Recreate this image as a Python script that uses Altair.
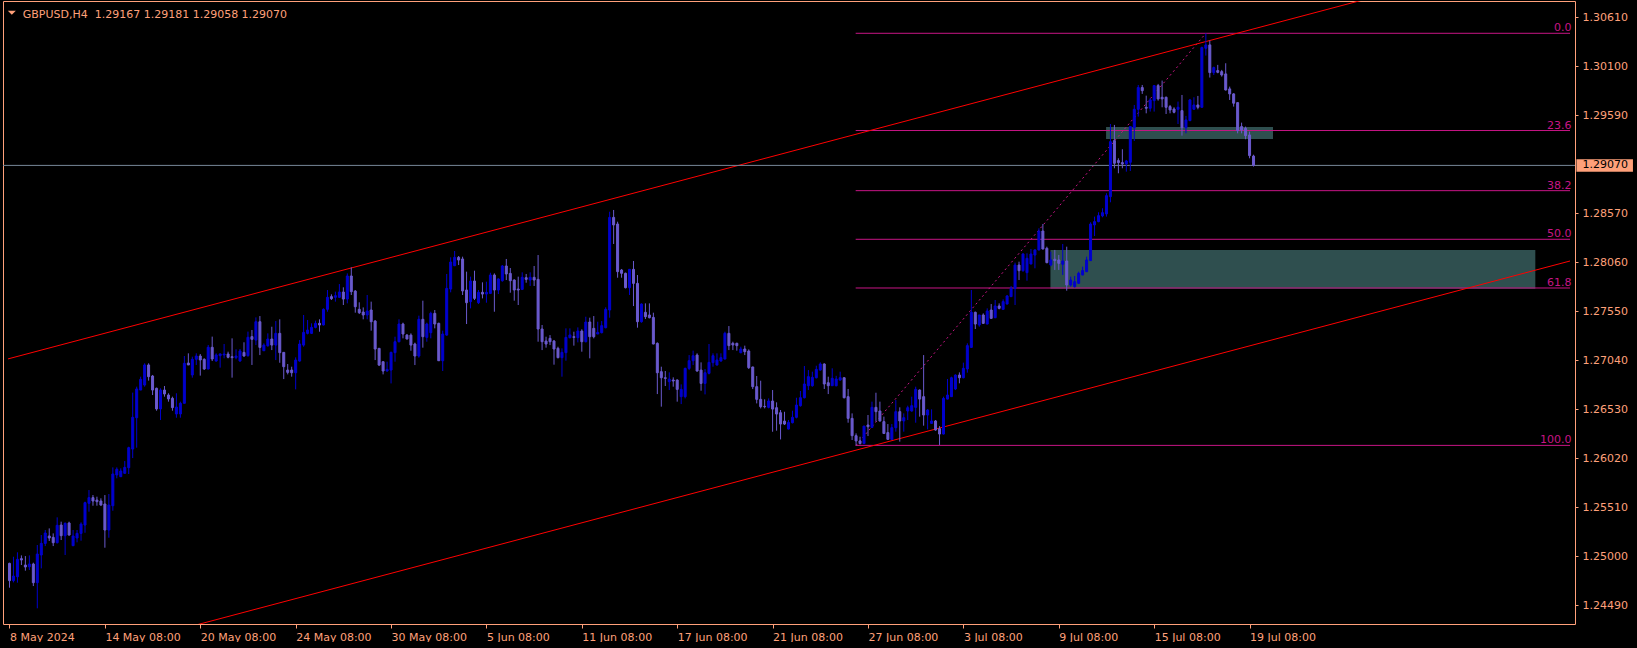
import altair as alt
import pandas as pd

# ---------------- data (GBPUSD H4, 8 May - 19 Jul 2024) ----------------
opens = [
    1.24928, 1.24748, 1.24789, 1.24977, 1.24911, 1.24893, 1.24921, 1.24727, 1.25015, 1.25136,
    1.25213, 1.25199, 1.25143, 1.25327, 1.25216, 1.25348, 1.25112, 1.25192, 1.25240, 1.25327,
    1.25553, 1.25612, 1.25587, 1.25577, 1.25546, 1.25275, 1.25528, 1.25848, 1.25830, 1.25865,
    1.25924, 1.26118, 1.26444, 1.26732, 1.26784, 1.26993, 1.26878, 1.26750, 1.26535, 1.26732,
    1.26680, 1.26646, 1.26483, 1.26483, 1.26594, 1.27013, 1.26889, 1.27052, 1.27086, 1.27052,
    1.26951, 1.27177, 1.27034, 1.27090, 1.27097, 1.27107, 1.27079, 1.27069, 1.27034, 1.27124,
    1.27090, 1.27288, 1.27252, 1.27443, 1.27141, 1.27193, 1.27263, 1.27200, 1.27322, 1.27124,
    1.26940, 1.26940, 1.26912, 1.27034, 1.27200, 1.27322, 1.27322, 1.27384, 1.27426, 1.27409,
    1.27572, 1.27704, 1.27697, 1.27697, 1.27752, 1.27679, 1.27919, 1.27762, 1.27572, 1.27544,
    1.27513, 1.27565, 1.27450, 1.27166, 1.27027, 1.26930, 1.26940, 1.27121, 1.27235, 1.27419,
    1.27304, 1.27304, 1.27211, 1.27086, 1.27468, 1.27280, 1.27329, 1.27530, 1.27426, 1.27037,
    1.27304, 1.27783, 1.28026, 1.28113, 1.28096, 1.27773, 1.27652, 1.27867, 1.27641, 1.27749,
    1.27731, 1.27738, 1.27929, 1.27773, 1.27870, 1.28023, 1.27946, 1.27877, 1.27783, 1.27780,
    1.27901, 1.27877, 1.27905, 1.27884, 1.27367, 1.27242, 1.27270, 1.27242, 1.27166, 1.27069,
    1.27121, 1.27277, 1.27287, 1.27277, 1.27346, 1.27235, 1.27440, 1.27374, 1.27315, 1.27329,
    1.27381, 1.27565, 1.28529, 1.28460, 1.27981, 1.27947, 1.27797, 1.27988, 1.27842, 1.27443,
    1.27541, 1.27513, 1.27488, 1.27218, 1.26923, 1.26860, 1.26819, 1.26836, 1.26836, 1.26663,
    1.26663, 1.26957, 1.27037, 1.27096, 1.26940, 1.26801, 1.26906, 1.27017, 1.26992, 1.27034,
    1.27055, 1.27322, 1.27218, 1.27218, 1.27121, 1.27159, 1.27138, 1.26972, 1.26767, 1.26635,
    1.26562, 1.26552, 1.26618, 1.26548, 1.26496, 1.26409, 1.26326, 1.26392, 1.26448, 1.26569,
    1.26652, 1.26777, 1.26777, 1.26860, 1.26940, 1.27003, 1.26808, 1.26777, 1.26777, 1.26836,
    1.26860, 1.26663, 1.26437, 1.26257, 1.26202, 1.26175, 1.26368, 1.26343, 1.26552, 1.26514,
    1.26403, 1.26289, 1.26219, 1.26340, 1.26507, 1.26410, 1.26514, 1.26514, 1.26552, 1.26732,
    1.26663, 1.26472, 1.26385, 1.26410, 1.26330, 1.26274, 1.26638, 1.26663, 1.26743, 1.26888,
    1.26860, 1.26951, 1.27176, 1.27541, 1.27409, 1.27513, 1.27419, 1.27565, 1.27485, 1.27607,
    1.27572, 1.27627, 1.27704, 1.27790, 1.28033, 1.27974, 1.27954, 1.28044, 1.28137, 1.28190,
    1.28387, 1.28207, 1.28034, 1.28093, 1.28086, 1.28041, 1.28075, 1.27825, 1.27808, 1.27843,
    1.27930, 1.27964, 1.28079, 1.28450, 1.28485, 1.28544, 1.28565, 1.28745, 1.29328, 1.29120,
    1.29099, 1.29085, 1.29102, 1.29463, 1.29654, 1.29880, 1.29675, 1.29665, 1.29744, 1.29900,
    1.29779, 1.29779, 1.29682, 1.29657, 1.29654, 1.29640, 1.29463, 1.29536, 1.29654, 1.29699,
    1.29675, 1.30289, 1.30324, 1.30036, 1.30057, 1.30046, 1.30022, 1.29866, 1.29814, 1.29723,
    1.29474, 1.29456, 1.29387, 1.29167,
]
highs = [
    1.24935, 1.24997, 1.25043, 1.25011, 1.25004, 1.25011, 1.24935, 1.25119, 1.25223, 1.25275,
    1.25292, 1.25240, 1.25407, 1.25362, 1.25355, 1.25362, 1.25275, 1.25275, 1.25355, 1.25570,
    1.25691, 1.25639, 1.25622, 1.25605, 1.25639, 1.25650, 1.25927, 1.25927, 1.25917, 1.25993,
    1.26142, 1.26705, 1.26767, 1.26871, 1.27010, 1.27010, 1.26889, 1.26757, 1.26750, 1.26774,
    1.26698, 1.26663, 1.26698, 1.26611, 1.27086, 1.27114, 1.27079, 1.27114, 1.27107, 1.27062,
    1.27201, 1.27288, 1.27114, 1.27114, 1.27211, 1.27131, 1.27270, 1.27156, 1.27159, 1.27229,
    1.27340, 1.27357, 1.27488, 1.27502, 1.27218, 1.27322, 1.27391, 1.27450, 1.27468, 1.27124,
    1.27003, 1.26975, 1.27072, 1.27252, 1.27513, 1.27461, 1.27426, 1.27454, 1.27468, 1.27582,
    1.27773, 1.27728, 1.27756, 1.27835, 1.27801, 1.27946, 1.28009, 1.27773, 1.27645, 1.27592,
    1.27721, 1.27652, 1.27461, 1.27166, 1.27027, 1.27027, 1.27131, 1.27287, 1.27468, 1.27433,
    1.27315, 1.27322, 1.27225, 1.27506, 1.27662, 1.27433, 1.27547, 1.27565, 1.27433, 1.27350,
    1.27940, 1.28113, 1.28179, 1.28127, 1.28120, 1.27964, 1.27912, 1.27974, 1.27773, 1.27853,
    1.27860, 1.27953, 1.27946, 1.27894, 1.28033, 1.28096, 1.28002, 1.27884, 1.27912, 1.27957,
    1.27940, 1.27957, 1.28023, 1.28137, 1.27409, 1.27287, 1.27304, 1.27253, 1.27183, 1.27166,
    1.27374, 1.27374, 1.27339, 1.27384, 1.27364, 1.27495, 1.27485, 1.27502, 1.27443, 1.27450,
    1.27593, 1.28588, 1.28606, 1.28484, 1.27992, 1.27954, 1.27992, 1.28075, 1.27929, 1.27634,
    1.27634, 1.27634, 1.27537, 1.27228, 1.26975, 1.26930, 1.26916, 1.26864, 1.26843, 1.26791,
    1.26965, 1.27096, 1.27142, 1.27114, 1.27020, 1.26951, 1.27211, 1.27114, 1.27114, 1.27114,
    1.27339, 1.27398, 1.27235, 1.27225, 1.27183, 1.27194, 1.27155, 1.26975, 1.26878, 1.26829,
    1.26635, 1.26645, 1.26732, 1.26604, 1.26524, 1.26506, 1.26420, 1.26517, 1.26652, 1.26722,
    1.26982, 1.26940, 1.26923, 1.26985, 1.27020, 1.27010, 1.26871, 1.26958, 1.26880, 1.26923,
    1.26865, 1.26743, 1.26489, 1.26281, 1.26246, 1.26357, 1.26472, 1.26611, 1.26704, 1.26611,
    1.26455, 1.26378, 1.26378, 1.26628, 1.26552, 1.26489, 1.26569, 1.26663, 1.26767, 1.26739,
    1.27096, 1.26534, 1.26531, 1.26420, 1.26357, 1.26663, 1.26847, 1.26871, 1.26895, 1.26916,
    1.27017, 1.27218, 1.27773, 1.27548, 1.27513, 1.27530, 1.27582, 1.27627, 1.27669, 1.27634,
    1.27676, 1.27721, 1.27815, 1.28058, 1.28068, 1.28155, 1.28155, 1.28200, 1.28196, 1.28415,
    1.28460, 1.28224, 1.28172, 1.28190, 1.28138, 1.28252, 1.28224, 1.27912, 1.27919, 1.27964,
    1.28016, 1.28120, 1.28478, 1.28537, 1.28582, 1.28624, 1.28780, 1.29501, 1.29491, 1.29144,
    1.29238, 1.29127, 1.29474, 1.29699, 1.29907, 1.29907, 1.29796, 1.29769, 1.29907, 1.29918,
    1.29953, 1.29786, 1.29699, 1.29675, 1.29734, 1.29803, 1.29585, 1.29762, 1.29779, 1.29793,
    1.30306, 1.30445, 1.30369, 1.30098, 1.30116, 1.30064, 1.30133, 1.29890, 1.29821, 1.29728,
    1.29515, 1.29474, 1.29422, 1.29181,
]
lows = [
    1.24675, 1.24730, 1.24727, 1.24911, 1.24852, 1.24859, 1.24692, 1.24460, 1.24876, 1.25108,
    1.25161, 1.25108, 1.25136, 1.25171, 1.25015, 1.25216, 1.25108, 1.25147, 1.25164, 1.25247,
    1.25466, 1.25528, 1.25528, 1.25528, 1.25091, 1.25195, 1.25476, 1.25813, 1.25827, 1.25865,
    1.25858, 1.26024, 1.26132, 1.26732, 1.26767, 1.26830, 1.26680, 1.26517, 1.26420, 1.26663,
    1.26611, 1.26517, 1.26444, 1.26444, 1.26594, 1.26993, 1.26861, 1.26993, 1.26882, 1.26941,
    1.26948, 1.27034, 1.27027, 1.26965, 1.27062, 1.27062, 1.26861, 1.27052, 1.27027, 1.27079,
    1.27079, 1.26993, 1.27200, 1.27096, 1.27138, 1.27183, 1.27148, 1.27044, 1.27016, 1.26846,
    1.26895, 1.26871, 1.26739, 1.27027, 1.27183, 1.27311, 1.27315, 1.27374, 1.27339, 1.27405,
    1.27547, 1.27669, 1.27652, 1.27690, 1.27617, 1.27634, 1.27721, 1.27537, 1.27523, 1.27468,
    1.27468, 1.27350, 1.27044, 1.26982, 1.26895, 1.26923, 1.26801, 1.27027, 1.27228, 1.27270,
    1.27259, 1.27141, 1.26992, 1.27069, 1.27173, 1.27235, 1.27270, 1.27374, 1.27034, 1.26930,
    1.27298, 1.27749, 1.28022, 1.28033, 1.27721, 1.27419, 1.27582, 1.27669, 1.27627, 1.27686,
    1.27641, 1.27731, 1.27547, 1.27731, 1.27860, 1.27877, 1.27745, 1.27662, 1.27617, 1.27773,
    1.27849, 1.27815, 1.27815, 1.27235, 1.27148, 1.27173, 1.27200, 1.26996, 1.27062, 1.26871,
    1.27037, 1.27270, 1.27194, 1.27228, 1.27131, 1.27228, 1.27062, 1.27270, 1.27315, 1.27322,
    1.27374, 1.27485, 1.28252, 1.27901, 1.27901, 1.27790, 1.27721, 1.27606, 1.27381, 1.27433,
    1.27471, 1.27478, 1.27208, 1.26690, 1.26559, 1.26774, 1.26732, 1.26767, 1.26611, 1.26586,
    1.26645, 1.26940, 1.26992, 1.26923, 1.26725, 1.26687, 1.26895, 1.26975, 1.26990, 1.27027,
    1.27050, 1.27148, 1.27148, 1.27142, 1.27114, 1.27096, 1.26951, 1.26742, 1.26593, 1.26541,
    1.26541, 1.26541, 1.26298, 1.26309, 1.26218, 1.26368, 1.26322, 1.26385, 1.26437, 1.26559,
    1.26645, 1.26732, 1.26767, 1.26853, 1.26935, 1.26743, 1.26690, 1.26774, 1.26770, 1.26830,
    1.26645, 1.26392, 1.26212, 1.26156, 1.26165, 1.26168, 1.26253, 1.26340, 1.26403, 1.26403,
    1.26274, 1.26212, 1.26212, 1.26299, 1.26195, 1.26299, 1.26420, 1.26507, 1.26392, 1.26455,
    1.26361, 1.26323, 1.26380, 1.26309, 1.26160, 1.26270, 1.26635, 1.26660, 1.26732, 1.26802,
    1.26854, 1.26913, 1.27170, 1.27367, 1.27391, 1.27420, 1.27416, 1.27475, 1.27480, 1.27572,
    1.27565, 1.27624, 1.27700, 1.27617, 1.27877, 1.27964, 1.27870, 1.28040, 1.27999, 1.28185,
    1.28195, 1.28051, 1.28020, 1.27982, 1.27982, 1.27930, 1.27766, 1.27808, 1.27800, 1.27836,
    1.27925, 1.27960, 1.28075, 1.28335, 1.28478, 1.28530, 1.28537, 1.28686, 1.29040, 1.28988,
    1.29040, 1.29005, 1.29012, 1.29324, 1.29578, 1.29814, 1.29612, 1.29630, 1.29630, 1.29744,
    1.29675, 1.29605, 1.29612, 1.29612, 1.29501, 1.29380, 1.29404, 1.29530, 1.29647, 1.29654,
    1.29670, 1.30213, 1.29984, 1.30011, 1.30029, 1.29994, 1.29850, 1.29751, 1.29682, 1.29404,
    1.29404, 1.29342, 1.29144, 1.29058,
]
closes = [
    1.24748, 1.24796, 1.24970, 1.24963, 1.24890, 1.24921, 1.24727, 1.25025, 1.25136, 1.25244,
    1.25192, 1.25143, 1.25324, 1.25216, 1.25344, 1.25223, 1.25213, 1.25240, 1.25337, 1.25560,
    1.25612, 1.25577, 1.25570, 1.25535, 1.25275, 1.25535, 1.25858, 1.25907, 1.25889, 1.25927,
    1.26132, 1.26448, 1.26743, 1.26843, 1.26993, 1.26871, 1.26732, 1.26535, 1.26732, 1.26691,
    1.26639, 1.26549, 1.26555, 1.26594, 1.27010, 1.26993, 1.27052, 1.27086, 1.27045, 1.26951,
    1.27177, 1.27055, 1.27097, 1.27107, 1.27107, 1.27073, 1.27069, 1.27086, 1.27138, 1.27086,
    1.27281, 1.27260, 1.27443, 1.27176, 1.27200, 1.27263, 1.27200, 1.27322, 1.27121, 1.26975,
    1.26916, 1.26912, 1.27044, 1.27211, 1.27332, 1.27356, 1.27384, 1.27426, 1.27409, 1.27572,
    1.27697, 1.27683, 1.27714, 1.27752, 1.27679, 1.27919, 1.27756, 1.27599, 1.27537, 1.27513,
    1.27554, 1.27443, 1.27159, 1.26992, 1.26930, 1.26947, 1.27124, 1.27235, 1.27419, 1.27315,
    1.27263, 1.27200, 1.27086, 1.27468, 1.27287, 1.27419, 1.27530, 1.27419, 1.27037, 1.27315,
    1.27790, 1.28064, 1.28113, 1.28085, 1.27763, 1.27641, 1.27867, 1.27686, 1.27749, 1.27731,
    1.27749, 1.27929, 1.27773, 1.27888, 1.28023, 1.27940, 1.27870, 1.27773, 1.27773, 1.27905,
    1.27884, 1.27905, 1.27877, 1.27367, 1.27235, 1.27211, 1.27235, 1.27159, 1.27069, 1.27124,
    1.27280, 1.27305, 1.27280, 1.27346, 1.27235, 1.27440, 1.27287, 1.27287, 1.27332, 1.27402,
    1.27572, 1.28529, 1.28450, 1.27964, 1.27947, 1.27797, 1.27988, 1.27842, 1.27443, 1.27627,
    1.27495, 1.27485, 1.27211, 1.26912, 1.26860, 1.26853, 1.26846, 1.26826, 1.26739, 1.26739,
    1.26957, 1.27037, 1.27089, 1.26930, 1.26801, 1.26912, 1.27020, 1.27089, 1.27044, 1.27069,
    1.27322, 1.27194, 1.27201, 1.27194, 1.27159, 1.27131, 1.26965, 1.26767, 1.26635, 1.26559,
    1.26559, 1.26618, 1.26534, 1.26482, 1.26378, 1.26378, 1.26395, 1.26448, 1.26576, 1.26652,
    1.26795, 1.26871, 1.26864, 1.26947, 1.27003, 1.26795, 1.26777, 1.26854, 1.26847, 1.26860,
    1.26652, 1.26437, 1.26257, 1.26202, 1.26175, 1.26357, 1.26350, 1.26552, 1.26507, 1.26410,
    1.26280, 1.26219, 1.26340, 1.26507, 1.26410, 1.26444, 1.26548, 1.26569, 1.26739, 1.26638,
    1.26472, 1.26524, 1.26410, 1.26316, 1.26274, 1.26645, 1.26680, 1.26860, 1.26888, 1.26860,
    1.26958, 1.27194, 1.27541, 1.27419, 1.27513, 1.27426, 1.27555, 1.27478, 1.27607, 1.27582,
    1.27652, 1.27711, 1.27790, 1.28033, 1.27974, 1.28148, 1.28103, 1.28148, 1.28190, 1.28387,
    1.28200, 1.28058, 1.28086, 1.28079, 1.28051, 1.28075, 1.27825, 1.27877, 1.27860, 1.27947,
    1.27975, 1.28086, 1.28460, 1.28485, 1.28547, 1.28578, 1.28755, 1.29317, 1.29092, 1.29099,
    1.29085, 1.29116, 1.29474, 1.29654, 1.29880, 1.29848, 1.29665, 1.29751, 1.29900, 1.29762,
    1.29762, 1.29675, 1.29647, 1.29623, 1.29675, 1.29463, 1.29543, 1.29751, 1.29699, 1.29675,
    1.30296, 1.30324, 1.30036, 1.30088, 1.30039, 1.30011, 1.29855, 1.29814, 1.29717, 1.29432,
    1.29439, 1.29380, 1.29172, 1.29070,
]

x_tick_bars = [0, 24, 48, 72, 96, 120, 144, 168, 192, 216, 240, 264, 288, 312]
x_tick_labels = ["8 May 2024", "14 May 08:00", "20 May 08:00", "24 May 08:00", "30 May 08:00",
                 "5 Jun 08:00", "11 Jun 08:00", "17 Jun 08:00", "21 Jun 08:00", "27 Jun 08:00",
                 "3 Jul 08:00", "9 Jul 08:00", "15 Jul 08:00", "19 Jul 08:00"]
price_ticks = [1.24490, 1.25000, 1.25510, 1.26020, 1.26530, 1.27040, 1.27550, 1.28060,
               1.28570, 1.29590, 1.30100, 1.30610]

fib_labels = ["0.0", "23.6", "38.2", "50.0", "61.8", "100.0"]
fib_prices = [1.30445, 1.29433, 1.28807, 1.28301, 1.27794, 1.26156]
fib_start_bar = 212.9
fib_diag_bars = [213, 301]
fib_diag_prices = [1.26156, 1.30445]

channel_bars = [-0.375, 392.625]
channel_upper = [1.27056, 1.31363]
channel_lower = [1.23768, 1.28075]

zone_start = [275.9, 261.9]
zone_end = [317.9, 383.9]
zone_low = [1.29344, 1.27785]
zone_high = [1.29469, 1.28189]

current_price = 1.29070
header_text = "GBPUSD,H4\u00a0\u00a01.29167 1.29181 1.29058 1.29070"

# ---------------- styling ----------------
ORANGE = "#FFA07A"
BULL = "#0000CD"
BEAR = "#6A5ACD"
FIB = "#C71585"
ZONE = "#2F4F4F"
FONT = "DejaVu Sans"
W, H = 1572, 623
XDOM = [-0.375, 392.625]
YDOM = [1.24297, 1.30781]

xs = alt.Scale(domain=XDOM, nice=False, zero=False)
ys = alt.Scale(domain=YDOM, nice=False, zero=False)

labels_js = "[" + ",".join("'" + s + "'" for s in x_tick_labels) + "]"
bars_js = "[" + ",".join(str(b) for b in x_tick_bars) + "]"

x_axis = alt.Axis(values=x_tick_bars, labelExpr=f"{labels_js}[indexof({bars_js}, datum.value)]",
                  labelAlign="left", labelBaseline="top", labelPadding=3, tickSize=4,
                  tickColor=ORANGE, labelColor=ORANGE, labelFont=FONT, labelFontSize=11,
                  domain=False, grid=False, title=None, labelFlush=False, labelOverlap=False,
                  labelBound=False)
y_axis = alt.Axis(orient="right", values=price_ticks, format=".5f", tickSize=3, labelPadding=4,
                  tickColor=ORANGE, labelColor=ORANGE, labelFont=FONT, labelFontSize=11,
                  domain=False, grid=False, title=None, labelOverlap=False, labelFlush=False)


def X(field):
    return alt.X(field, scale=xs, axis=x_axis, title=None)


def Y(field):
    return alt.Y(field, scale=ys, axis=y_axis, title=None)


bars = pd.DataFrame({"i": list(range(len(closes))), "o": opens, "h": highs, "l": lows, "c": closes})
col = alt.condition("datum.c >= datum.o", alt.value(BULL), alt.value(BEAR))

zones_df = pd.DataFrame({"x1": zone_start, "x2": zone_end, "y1": zone_low, "y2": zone_high})
zones = alt.Chart(zones_df).mark_rect(color=ZONE, opacity=1).encode(
    x=X("x1:Q"), x2="x2:Q", y=Y("y1:Q"), y2="y2:Q")

fib_df = pd.DataFrame({"p": fib_prices, "lab": fib_labels,
                       "x1": [fib_start_bar] * len(fib_prices), "x2": [XDOM[1]] * len(fib_prices)})
fib_rules = alt.Chart(fib_df).mark_rule(color=FIB, strokeWidth=1).encode(
    x=X("x1:Q"), x2="x2:Q", y=Y("p:Q"))
fib_text = alt.Chart(fib_df).mark_text(align="right", baseline="alphabetic", dy=-2, font=FONT,
                                        fontSize=11, color=FIB).encode(
    x=alt.value(W - 3.5), y=Y("p:Q"), text="lab:N")

diag_df = pd.DataFrame({"b": fib_diag_bars, "p": fib_diag_prices})
fib_diag = alt.Chart(diag_df).mark_line(color=FIB, strokeWidth=1, strokeDash=[2, 3]).encode(
    x=X("b:Q"), y=Y("p:Q"))

chan_df = pd.DataFrame({"b": channel_bars * 2, "p": channel_upper + channel_lower,
                        "line": ["upper", "upper", "lower", "lower"]})
channel = alt.Chart(chan_df).mark_line(color="#FF0000", strokeWidth=1, clip=True).encode(
    x=X("b:Q"), y=Y("p:Q"), detail="line:N")

cur_df = pd.DataFrame({"p": [current_price], "t": [f"{current_price:.5f}"]})
price_line = alt.Chart(cur_df).mark_rule(color="#778899", strokeWidth=1).encode(y=Y("p:Q"))

wicks = alt.Chart(bars).mark_rule(strokeWidth=1).encode(
    x=X("i:Q"), y=Y("l:Q"), y2="h:Q", stroke=col)
bodies = alt.Chart(bars).mark_bar(size=2, strokeWidth=1).encode(
    x=X("i:Q"), y=Y("o:Q"), y2="c:Q", fill=col, stroke=col)

box = alt.Chart(cur_df).mark_point(shape="M-1,-0.221L1,-0.221L1,0.221L-1,0.221Z", size=3192,
                                   filled=True, fill=ORANGE, opacity=1, strokeWidth=0, clip=False).encode(
    x=alt.value(W + 29.7), y=Y("p:Q"))
box_text = alt.Chart(cur_df).mark_text(align="left", baseline="middle", font=FONT, fontSize=11,
                                       color="#000000", clip=False).encode(
    x=alt.value(W + 7.4), y=Y("p:Q"), text="t:N")

head_df = pd.DataFrame({"t": [header_text]})
header = alt.Chart(head_df).mark_text(align="left", baseline="alphabetic", font=FONT, fontSize=11,
                                      color=ORANGE).encode(
    x=alt.value(19.7), y=alt.value(16.8), text="t:N")
tri = alt.Chart(head_df).mark_point(shape="M-1,-0.5L1,-0.5L0,0.5Z", size=64, filled=True,
                                    fill=ORANGE, opacity=1, strokeWidth=0).encode(
    x=alt.value(8.8), y=alt.value(11.7))

chart = alt.layer(
    zones, fib_rules, fib_diag, channel, price_line, wicks, bodies, fib_text, box, box_text, header, tri
).properties(width=W, height=H, background="#000000",
             padding={"left": 2, "top": 1, "right": 0, "bottom": 0}).configure_view(
    fill="#000000", stroke=ORANGE, strokeWidth=1)

PAGE_TEMPLATE = """<!DOCTYPE html>
<html>
<head>
  <style>
    html, body { background: #000000; margin: 0; padding: 0; overflow: hidden; }
    #{{ output_div }}.vega-embed { width: 100%; display: flex; }
    #{{ output_div }}.vega-embed details,
    #{{ output_div }}.vega-embed details summary { position: relative; }
  </style>
  <script type="text/javascript" src="{{ base_url }}/vega@{{ vega_version }}"></script>
  <script type="text/javascript" src="{{ base_url }}/vega-lite@{{ vegalite_version }}"></script>
  <script type="text/javascript" src="{{ base_url }}/vega-embed@{{ vegaembed_version }}"></script>
</head>
<body>
  <div id="{{ output_div }}"></div>
  <script>
    (function(vegaEmbed) {
      var spec = {{ spec }};
      var embedOpt = {{ embed_options }};
      const el = document.getElementById('{{ output_div }}');
      vegaEmbed("#{{ output_div }}", spec, embedOpt)
        .catch(function(error) { el.innerHTML = '<pre style="color:red">' + error + '</pre>'; });
    })(vegaEmbed);
  </script>
</body>
</html>
"""

try:
    import jinja2
    chart.save("out.html", embed_options={"renderer": "svg", "actions": False},
               template=jinja2.Template(PAGE_TEMPLATE))
except Exception:
    chart.save("out.html", embed_options={"renderer": "svg", "actions": False})
